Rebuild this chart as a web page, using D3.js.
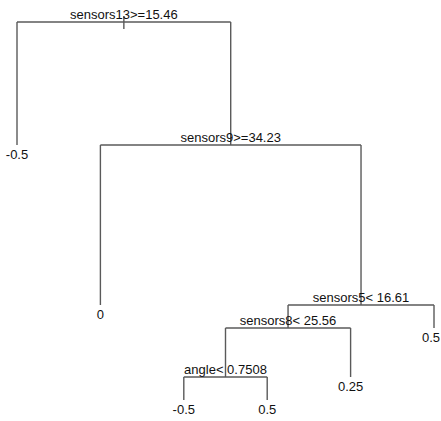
<!DOCTYPE html>
<html>
<head>
<meta charset="utf-8">
<script src="https://cdn.jsdelivr.net/npm/d3@7"></script>
<style>
  body { margin: 0; background: #fff; }
  text { font-family: "Liberation Sans", Arial, sans-serif; fill: #111; }
</style>
</head>
<body>
<div id="chart-area"></div>
<script>
// rpart-style node numbers: children of n are 2n and 2n+1
let splitNodes = [1, 3, 7, 14, 28]
let splitLabels = ["sensors13>=15.46", "sensors9>=34.23", "sensors5< 16.61", "sensors8< 25.56", "angle< 0.7508"]
// deviance drop below each split (sets branch length)
let splitGain = [12.3, 16.0, 2.3, 4.9, 2.3]
let leafNodes = [2, 6, 56, 57, 29, 15]
let leafValues = ["-0.5", "0", "-0.5", "0.5", "0.25", "0.5"]

let width = 441
let height = 421

let svg = d3.select("#chart-area").append("svg")
  .attr("width", width)
  .attr("height", height)

let rows = splitNodes.map((id, i) => ({ id: id, label: splitLabels[i], gain: splitGain[i] }))
  .concat(leafNodes.map((id, i) => ({ id: id, label: leafValues[i], gain: 0 })))

let root = d3.stratify()
  .id(d => d.id)
  .parentId(d => d.id === 1 ? null : Math.floor(d.id / 2))(rows)

// keep left child (even id) first
root.sort((a, b) => a.data.id - b.data.id)

// leaves get 0..n-1 in order, internal nodes sit at mean of children
let leafIndex = 0
root.eachAfter(node => {
  if (!node.children) { node.px = leafIndex++ }
  else { node.px = d3.mean(node.children, c => c.px) }
})
root.eachBefore(node => {
  node.py = node.parent ? node.parent.py + node.parent.data.gain : 0
})

let x = d3.scaleLinear()
  .domain([0, leafIndex - 1])
  .range([17, 434])

let y = d3.scaleLinear()
  .domain([0, d3.max(root.leaves(), d => d.py)])
  .range([22, 400])

let lineColor = "#5a5a5a"
let branches = svg.append("g")
  .attr("stroke", lineColor)
  .attr("stroke-width", 1.4)
  .attr("fill", "none")

// little stub at the root
branches.append("line")
  .attr("x1", x(root.px)).attr("x2", x(root.px))
  .attr("y1", y(root.py) - 6).attr("y2", y(root.py) + 7)

root.descendants().filter(d => d.children).forEach(node => {
  let [left, right] = node.children
  branches.append("line")
    .attr("x1", x(left.px)).attr("x2", x(right.px))
    .attr("y1", y(node.py)).attr("y2", y(node.py))
  node.children.forEach(child => {
    branches.append("line")
      .attr("x1", x(child.px)).attr("x2", x(child.px))
      .attr("y1", y(node.py)).attr("y2", y(child.py))
  })
})

svg.append("g").selectAll("text.split")
  .data(root.descendants().filter(d => d.children))
  .enter().append("text")
    .attr("class", "split")
    .attr("x", d => x(d.px))
    .attr("y", d => y(d.py) - 3.5)
    .attr("text-anchor", "middle")
    .style("font-size", "13px")
    .text(d => d.data.label)

svg.append("g").selectAll("text.leaf")
  .data(root.leaves())
  .enter().append("text")
    .attr("class", "leaf")
    .attr("x", d => x(d.px))
    .attr("y", d => y(d.py) + 14)
    .attr("text-anchor", "middle")
    .style("font-size", "13px")
    .text(d => d.data.label)
    .each(function () {
      // keep labels inside the right edge
      let box = this.getBBox()
      if (box.x + box.width > width - 1) {
        d3.select(this).attr("x", +d3.select(this).attr("x") - (box.x + box.width - width + 1))
      }
    })
</script>
</body>
</html>
